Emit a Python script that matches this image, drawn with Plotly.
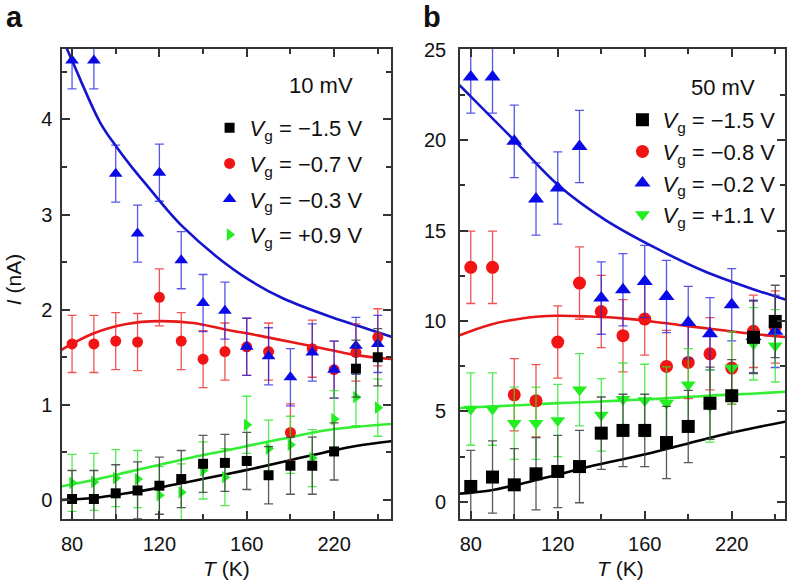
import plotly.graph_objects as go

# ---------------- data ----------------
# x positions are the evenly spaced temperature steps of the measurement (index of point)
pos = list(range(15))
tick_pos = [0, 4, 8, 12]
tick_text = ["80", "120", "160", "220"]
minor_pos = [2, 6, 10, 14]

# Panel a (10 mV), current in nA
a_black = [0.01, 0.01, 0.07, 0.10, 0.15, 0.22, 0.38, 0.39, 0.41, 0.26, 0.36, 0.36, 0.51, 1.38, 1.50]
a_red = [1.64, 1.64, 1.67, 1.66, 2.13, 1.67, 1.48, 1.56, 1.61, 1.56, 0.71, 1.59, 1.37, 1.55, 1.71]
a_blue = [4.62, 4.62, 3.43, 2.80, 3.44, 2.52, 2.07, 1.99, 1.61, 1.51, 1.29, 1.55, 1.37, 1.62, 1.64]
a_green = [0.18, 0.19, 0.23, 0.22, 0.05, 0.08, 0.31, 0.24, 0.79, 0.54, 0.58, 0.44, 0.85, 1.08, 0.97]
a_err = 0.3

# fit curves panel a
a_fit_blue_x = [-0.25, 0, 1.28, 2.04, 2.80, 3.56, 4.32, 5.08, 6.61, 8.13, 9.65, 11.9, 13.5, 14.7]
a_fit_blue_y = [4.75, 4.62, 3.97, 3.71, 3.48, 3.27, 3.06, 2.87, 2.56, 2.31, 2.12, 1.92, 1.80, 1.71]
a_fit_x = [-0.55, 0.97, 2.5, 4.0, 5.54, 7.06, 8.5, 10.03, 11.55, 13.07, 14.7]
a_fit_red_y = [1.57, 1.75, 1.85, 1.88, 1.86, 1.79, 1.73, 1.66, 1.59, 1.52, 1.48]
a_fit_green_y = [0.14, 0.21, 0.29, 0.37, 0.45, 0.52, 0.59, 0.66, 0.73, 0.77, 0.80]
a_fit_black_y = [0.00, 0.02, 0.07, 0.13, 0.20, 0.27, 0.34, 0.42, 0.50, 0.57, 0.62]

# Panel b (50 mV)
b_black = [0.85, 1.37, 0.94, 1.55, 1.68, 1.95, 3.80, 3.95, 3.95, 3.28, 4.17, 5.45, 5.87, 9.10, 9.98]
b_red = [12.97, 12.97, 5.92, 5.59, 8.84, 12.10, 10.53, 9.19, 10.11, 7.49, 7.71, 8.19, 7.40, 9.43, 9.67]
b_blue = [23.5, 23.5, 19.94, 16.75, 17.36, 19.66, 11.27, 11.73, 12.19, 11.36, 9.92, 9.30, 10.9, 9.15, 9.43]
b_green = [5.13, 5.13, 4.35, 4.35, 4.50, 6.20, 4.81, 5.68, 5.61, 5.46, 6.47, 5.30, 7.40, 8.74, 8.63]
b_err = 2.0

b_fit_blue_x = [-0.52, 2.0, 4.04, 6.18, 8.47, 10.77, 13.06, 14.5]
b_fit_blue_y = [23.05, 20.0, 17.5, 15.6, 14.06, 12.74, 11.73, 11.18]
b_fit_x = [-0.64, 0.89, 2.42, 3.94, 5.47, 7.0, 8.32, 9.85, 11.38, 12.9, 14.5]
b_fit_red_y = [9.15, 9.8, 10.16, 10.29, 10.25, 10.15, 9.98, 9.74, 9.52, 9.30, 9.11]
b_fit_green_y = [5.18, 5.27, 5.36, 5.46, 5.52, 5.61, 5.68, 5.79, 5.90, 5.98, 6.09]
b_fit_black_y = [0.44, 0.63, 1.03, 1.49, 1.95, 2.36, 2.72, 3.18, 3.66, 4.06, 4.44]

labels_a = ["\u22121.5", "\u22120.7", "\u22120.3", "+0.9"]
labels_b = ["\u22121.5", "\u22120.8", "\u22120.2", "+1.1"]

# ---------------- style ----------------
FONT = "Liberation Sans, Arial, Helvetica, sans-serif"
C = dict(black="#000000", red="#f21414", blue="#0a0ae6", green="#22ee22")
CE = dict(black="rgba(60,60,60,0.85)", red="rgba(235,40,40,0.8)",
          blue="rgba(30,30,225,0.75)", green="rgba(40,230,40,0.8)")
CL = dict(black="#000000", red="#e81818", blue="#1414cc", green="#33ee33")

fig = go.Figure()


def vg(v):
    return "<i>V</i><sub>g</sub> = " + v + " V"


def add_panel(xa, ya, leg, data, labels, err, sizes, fits, green_symbol):
    for key, fx, fy in fits:
        fig.add_trace(go.Scatter(x=fx, y=fy, mode="lines",
                                 line=dict(color=CL[key], width=2.6, shape="spline", smoothing=1.0),
                                 xaxis=xa, yaxis=ya, showlegend=False, hoverinfo="skip"))
    order = ["red", "blue", "green", "black"]
    rank = dict(black=1, red=2, blue=3, green=4)
    sym = dict(black="square", red="circle", blue="triangle-up", green=green_symbol)
    lab = dict(black=labels[0], red=labels[1], blue=labels[2], green=labels[3])
    for key in order:
        fig.add_trace(go.Scatter(
            x=pos, y=data[key], mode="markers",
            marker=dict(symbol=sym[key], color=C[key], size=sizes[key], line=dict(width=0)),
            error_y=dict(type="constant", value=err, color=CE[key], thickness=1.3, width=4.5),
            xaxis=xa, yaxis=ya, name=vg(lab[key]), legend=leg, legendrank=rank[key],
            legendgroup=leg + key))


add_panel("x", "y", "legend",
          dict(black=a_black, red=a_red, blue=a_blue, green=a_green), labels_a, a_err,
          dict(black=10, red=11, blue=12, green=11),
          [("blue", a_fit_blue_x, a_fit_blue_y), ("red", a_fit_x, a_fit_red_y),
           ("green", a_fit_x, a_fit_green_y), ("black", a_fit_x, a_fit_black_y)],
          "triangle-right")
add_panel("x2", "y2", "legend2",
          dict(black=b_black, red=b_red, blue=b_blue, green=b_green), labels_b, b_err,
          dict(black=13, red=13, blue=14, green=13),
          [("blue", b_fit_blue_x, b_fit_blue_y), ("red", b_fit_x, b_fit_red_y),
           ("green", b_fit_x, b_fit_green_y), ("black", b_fit_x, b_fit_black_y)],
          "triangle-down")

W, H = 788, 581
L, R, T, B = 62, 1, 49, 62
pw = W - L - R
ph = H - T - B


def xdom(p0, p1):
    return [(p0 - L) / pw, (p1 - L) / pw]


axis_common = dict(showline=True, linecolor="#333333", linewidth=1.5, mirror="ticks",
                   ticks="inside", ticklen=8, tickwidth=1.5, tickcolor="#333333",
                   showgrid=False, zeroline=False,
                   tickfont=dict(family=FONT, size=20, color="#111111"))
minor_common = dict(ticks="inside", ticklen=5, tickwidth=1.5, tickcolor="#333333", showgrid=False)

xcommon = dict(axis_common, tickmode="array", tickvals=tick_pos, ticktext=tick_text,
               minor=dict(minor_common, tickmode="array", tickvals=minor_pos), ticklabelstandoff=6)

legfont = dict(family=FONT, size=22, color="#111111")
fig.update_layout(
    width=W, height=H, margin=dict(l=L, r=R, t=T, b=B),
    paper_bgcolor="white", plot_bgcolor="white",
    font=dict(family=FONT, color="#111111"),
    xaxis=dict(xcommon, domain=xdom(62, 392), range=[-0.46, 14.61], anchor="y"),
    yaxis=dict(axis_common, domain=[0, 1], range=[-0.2, 4.74], tickvals=[0, 1, 2, 3, 4],
               minor=dict(minor_common, tickvals=[0.5, 1.5, 2.5, 3.5, 4.5]), anchor="x",
               ticklabelstandoff=4),
    xaxis2=dict(xcommon, domain=xdom(461, 787), range=[-0.5, 14.45], anchor="y2"),
    yaxis2=dict(axis_common, domain=[0, 1], range=[-0.95, 25.05], tickvals=[0, 5, 10, 15, 20, 25],
                minor=dict(minor_common, tickvals=[2.5, 7.5, 12.5, 17.5, 22.5]), anchor="x2",
                ticklabelstandoff=8),
    legend=dict(x=(210 - L) / pw, y=1 - (107 - T) / ph, xanchor="left", yanchor="top",
                bgcolor="rgba(0,0,0,0)", font=legfont, tracegroupgap=4, itemwidth=30),
    legend2=dict(x=(624 - L) / pw, y=1 - (99 - T) / ph, xanchor="left", yanchor="top",
                 bgcolor="rgba(0,0,0,0)", font=legfont, tracegroupgap=0, itemwidth=30),
    showlegend=True,
)


def ann(text, x, y, size=21, bold=False, angle=0, xanchor="center"):
    fig.add_annotation(text=("<b>%s</b>" % text) if bold else text, xref="paper", yref="paper",
                       x=(x - L) / pw, y=1 - (y - T) / ph, showarrow=False,
                       xanchor=xanchor, yanchor="middle", textangle=angle,
                       font=dict(family=FONT, size=size, color="#111111"))


ann("10 mV", 322, 85, size=22)
ann("50 mV", 725, 87, size=22)
ann("a", 14, 17, size=29, bold=True)
ann("b", 433, 17, size=29, bold=True)
ann("<i>I</i> (nA)", 13, 280, size=21, angle=-90)
ann("<i>T</i> (K)", 227, 568, size=21)
ann("<i>T</i> (K)", 622, 568, size=21)

fig.write_html("out.html", config={"displayModeBar": False},
               post_script="document.body.style.margin='0px';document.body.style.overflow='hidden';")
